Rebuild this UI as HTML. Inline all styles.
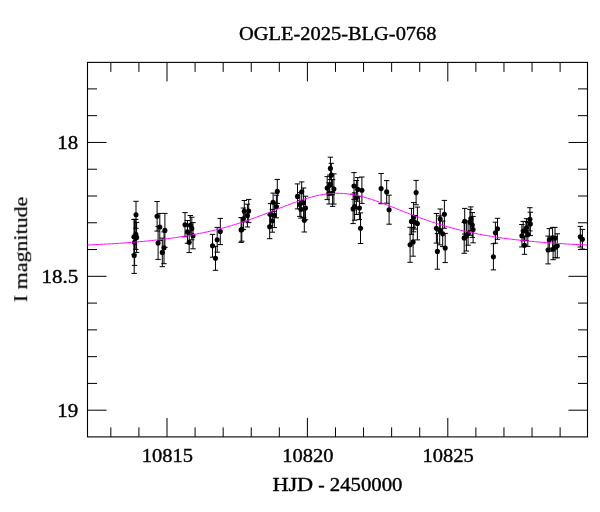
<!DOCTYPE html><html><head><meta charset="utf-8"><title>OGLE-2025-BLG-0768</title>
<style>html,body{margin:0;padding:0;background:#fff}svg{display:block}text{font-family:"Liberation Serif",serif;fill:#000;stroke:#000;stroke-width:0.4px}</style></head><body>
<svg width="600" height="512" viewBox="0 0 600 512">
<rect width="600" height="512" fill="#fff"/>
<path d="M110.84 436.9v-9.5M110.84 62.4v9.5M138.92 436.9v-9.5M138.92 62.4v9.5M167.00 436.9v-19M167.00 62.4v19M195.08 436.9v-9.5M195.08 62.4v9.5M223.16 436.9v-9.5M223.16 62.4v9.5M251.24 436.9v-9.5M251.24 62.4v9.5M279.32 436.9v-9.5M279.32 62.4v9.5M307.40 436.9v-19M307.40 62.4v19M335.48 436.9v-9.5M335.48 62.4v9.5M363.56 436.9v-9.5M363.56 62.4v9.5M391.64 436.9v-9.5M391.64 62.4v9.5M419.72 436.9v-9.5M419.72 62.4v9.5M447.80 436.9v-19M447.80 62.4v19M475.88 436.9v-9.5M475.88 62.4v9.5M503.96 436.9v-9.5M503.96 62.4v9.5M532.04 436.9v-9.5M532.04 62.4v9.5M560.12 436.9v-9.5M560.12 62.4v9.5M87.5 88.90h9.5M587.5 88.90h-9.5M87.5 115.67h9.5M587.5 115.67h-9.5M87.5 142.45h19M587.5 142.45h-19M87.5 169.23h9.5M587.5 169.23h-9.5M87.5 196.00h9.5M587.5 196.00h-9.5M87.5 222.78h9.5M587.5 222.78h-9.5M87.5 249.55h9.5M587.5 249.55h-9.5M87.5 276.32h19M587.5 276.32h-19M87.5 303.10h9.5M587.5 303.10h-9.5M87.5 329.87h9.5M587.5 329.87h-9.5M87.5 356.65h9.5M587.5 356.65h-9.5M87.5 383.42h9.5M587.5 383.42h-9.5M87.5 410.20h19M587.5 410.20h-19" stroke="#000" stroke-width="1" fill="none"/>
<rect x="87.5" y="62.4" width="500.0" height="374.5" fill="none" stroke="#000" stroke-width="1.1"/>
<path d="M136.0 201.3V228.3M133.3 201.3h5.4M133.3 228.3h5.4M135.8 219.4V249.4M133.1 219.4h5.4M133.1 249.4h5.4M134.0 219.4V254.2M131.3 219.4h5.4M131.3 254.2h5.4M136.6 222.4V252.4M133.9 222.4h5.4M133.9 252.4h5.4M134.6 219.4V265.4M131.9 219.4h5.4M131.9 265.4h5.4M134.2 237.6V273.4M131.5 237.6h5.4M131.5 273.4h5.4M157.1 201.5V231.1M154.4 201.5h5.4M154.4 231.1h5.4M159.8 213.4V240.6M157.1 213.4h5.4M157.1 240.6h5.4M164.9 213.4V247.4M162.2 213.4h5.4M162.2 247.4h5.4M158.1 226.6V259.4M155.4 226.6h5.4M155.4 259.4h5.4M164.0 231.9V263.7M161.3 231.9h5.4M161.3 263.7h5.4M162.3 238.1V266.7M159.6 238.1h5.4M159.6 266.7h5.4M185.0 212.6V236.8M182.3 212.6h5.4M182.3 236.8h5.4M190.3 215.5V234.9M187.6 215.5h5.4M187.6 234.9h5.4M191.8 217.2V239.8M189.1 217.2h5.4M189.1 239.8h5.4M187.5 220.5V243.3M184.8 220.5h5.4M184.8 243.3h5.4M193.0 222.6V248.8M190.3 222.6h5.4M190.3 248.8h5.4M189.2 232.0V252.6M186.5 232.0h5.4M186.5 252.6h5.4M220.3 218.4V244.6M217.6 218.4h5.4M217.6 244.6h5.4M217.2 227.4V252.2M214.5 227.4h5.4M214.5 252.2h5.4M212.5 234.4V257.2M209.8 234.4h5.4M209.8 257.2h5.4M215.5 246.3V270.3M212.8 246.3h5.4M212.8 270.3h5.4M248.7 199.4V222.6M246.0 199.4h5.4M246.0 222.6h5.4M244.3 200.5V221.9M241.6 200.5h5.4M241.6 221.9h5.4M247.4 204.2V227.0M244.7 204.2h5.4M244.7 227.0h5.4M243.4 208.0V229.6M240.7 208.0h5.4M240.7 229.6h5.4M241.1 217.6V242.4M238.4 217.6h5.4M238.4 242.4h5.4M241.8 217.6V241.2M239.1 217.6h5.4M239.1 241.2h5.4M277.3 179.4V203.4M274.6 179.4h5.4M274.6 203.4h5.4M273.1 193.1V211.5M270.4 193.1h5.4M270.4 211.5h5.4M276.4 195.2V217.8M273.7 195.2h5.4M273.7 217.8h5.4M270.5 203.6V225.4M267.8 203.6h5.4M267.8 225.4h5.4M274.3 203.0V227.6M271.6 203.0h5.4M271.6 227.6h5.4M272.3 209.4V232.2M269.6 209.4h5.4M269.6 232.2h5.4M269.7 214.9V238.7M267.0 214.9h5.4M267.0 238.7h5.4M301.7 181.9V201.5M299.0 181.9h5.4M299.0 201.5h5.4M297.5 183.9V208.9M294.8 183.9h5.4M294.8 208.9h5.4M303.6 188.0V217.6M300.9 188.0h5.4M300.9 217.6h5.4M299.8 192.6V216.4M297.1 192.6h5.4M297.1 216.4h5.4M300.9 200.5V218.1M298.2 200.5h5.4M298.2 218.1h5.4M305.5 196.2V219.8M302.8 196.2h5.4M302.8 219.8h5.4M304.3 208.4V232.0M301.6 208.4h5.4M301.6 232.0h5.4M330.4 157.2V179.6M327.7 157.2h5.4M327.7 179.6h5.4M331.4 163.3V186.9M328.7 163.3h5.4M328.7 186.9h5.4M329.7 175.1V195.1M327.0 175.1h5.4M327.0 195.1h5.4M327.2 176.6V199.6M324.5 176.6h5.4M324.5 199.6h5.4M333.9 173.9V204.1M331.2 173.9h5.4M331.2 204.1h5.4M329.0 182.8V204.0M326.3 182.8h5.4M326.3 204.0h5.4M332.6 179.6V206.4M329.9 179.6h5.4M329.9 206.4h5.4M354.0 172.6V199.4M351.3 172.6h5.4M351.3 199.4h5.4M357.7 177.6V201.2M355.0 177.6h5.4M355.0 201.2h5.4M361.9 177.0V203.4M359.2 177.0h5.4M359.2 203.4h5.4M356.4 180.5V214.5M353.7 180.5h5.4M353.7 214.5h5.4M354.6 192.8V220.2M351.9 192.8h5.4M351.9 220.2h5.4M353.1 194.2V223.6M350.4 194.2h5.4M350.4 223.6h5.4M359.4 196.4V219.6M356.7 196.4h5.4M356.7 219.6h5.4M360.5 212.9V243.5M357.8 212.9h5.4M357.8 243.5h5.4M381.1 173.5V203.7M378.4 173.5h5.4M378.4 203.7h5.4M386.7 180.6V203.2M384.0 180.6h5.4M384.0 203.2h5.4M389.1 195.2V224.2M386.4 195.2h5.4M386.4 224.2h5.4M416.1 180.4V204.8M413.4 180.4h5.4M413.4 204.8h5.4M413.6 202.6V231.8M410.9 202.6h5.4M410.9 231.8h5.4M411.5 208.4V234.4M408.8 208.4h5.4M408.8 234.4h5.4M414.8 215.5V229.1M412.1 215.5h5.4M412.1 229.1h5.4M417.4 207.1V239.9M414.7 207.1h5.4M414.7 239.9h5.4M413.1 227.6V256.2M410.4 227.6h5.4M410.4 256.2h5.4M410.1 227.3V262.3M407.4 227.3h5.4M407.4 262.3h5.4M444.4 200.4V228.2M441.7 200.4h5.4M441.7 228.2h5.4M440.2 209.0V229.2M437.5 209.0h5.4M437.5 229.2h5.4M436.4 213.5V243.1M433.7 213.5h5.4M433.7 243.1h5.4M439.7 215.9V244.9M437.0 215.9h5.4M437.0 244.9h5.4M442.7 221.0V246.6M440.0 221.0h5.4M440.0 246.6h5.4M445.2 233.4V262.6M442.5 233.4h5.4M442.5 262.6h5.4M437.4 233.6V269.2M434.7 233.6h5.4M434.7 269.2h5.4M464.7 208.4V234.0M462.0 208.4h5.4M462.0 234.0h5.4M470.8 206.9V230.7M468.1 206.9h5.4M468.1 230.7h5.4M470.0 209.4V235.2M467.3 209.4h5.4M467.3 235.2h5.4M472.3 212.6V237.4M469.6 212.6h5.4M469.6 237.4h5.4M473.1 216.4V242.8M470.4 216.4h5.4M470.4 242.8h5.4M468.1 221.6V245.2M465.4 221.6h5.4M465.4 245.2h5.4M466.4 221.0V251.0M463.7 221.0h5.4M463.7 251.0h5.4M464.2 222.5V253.3M461.5 222.5h5.4M461.5 253.3h5.4M497.5 218.3V239.3M494.8 218.3h5.4M494.8 239.3h5.4M495.4 222.2V243.2M492.7 222.2h5.4M492.7 243.2h5.4M493.4 243.7V269.9M490.7 243.7h5.4M490.7 269.9h5.4M529.9 207.7V230.9M527.2 207.7h5.4M527.2 230.9h5.4M530.3 212.2V235.6M527.6 212.2h5.4M527.6 235.6h5.4M526.5 218.7V236.7M523.8 218.7h5.4M523.8 236.7h5.4M523.2 221.4V240.8M520.5 221.4h5.4M520.5 240.8h5.4M527.8 222.4V246.4M525.1 222.4h5.4M525.1 246.4h5.4M526.0 221.5V240.5M523.3 221.5h5.4M523.3 240.5h5.4M521.9 224.5V246.9M519.2 224.5h5.4M519.2 246.9h5.4M524.5 236.1V254.3M521.8 236.1h5.4M521.8 254.3h5.4M552.6 227.4V248.2M549.9 227.4h5.4M549.9 248.2h5.4M555.0 227.4V248.6M552.3 227.4h5.4M552.3 248.6h5.4M549.3 228.6V251.2M546.6 228.6h5.4M546.6 251.2h5.4M557.3 233.8V257.8M554.6 233.8h5.4M554.6 257.8h5.4M555.2 236.8V257.8M552.5 236.8h5.4M552.5 257.8h5.4M553.1 238.9V259.7M550.4 238.9h5.4M550.4 259.7h5.4M548.1 236.1V263.9M545.4 236.1h5.4M545.4 263.9h5.4M580.3 226.4V247.0M577.6 226.4h5.4M577.6 247.0h5.4M582.4 229.4V249.0M579.7 229.4h5.4M579.7 249.0h5.4" stroke="#000" stroke-width="1" fill="none"/>
<g fill="#000"><circle cx="136.0" cy="214.8" r="2.55"/><circle cx="135.8" cy="234.4" r="2.55"/><circle cx="134.0" cy="236.8" r="2.55"/><circle cx="136.6" cy="237.4" r="2.55"/><circle cx="134.6" cy="242.4" r="2.55"/><circle cx="134.2" cy="255.5" r="2.55"/><circle cx="157.1" cy="216.3" r="2.55"/><circle cx="159.8" cy="227.0" r="2.55"/><circle cx="164.9" cy="230.4" r="2.55"/><circle cx="158.1" cy="243.0" r="2.55"/><circle cx="164.0" cy="247.8" r="2.55"/><circle cx="162.3" cy="252.4" r="2.55"/><circle cx="185.0" cy="224.7" r="2.55"/><circle cx="190.3" cy="225.2" r="2.55"/><circle cx="191.8" cy="228.5" r="2.55"/><circle cx="187.5" cy="231.9" r="2.55"/><circle cx="193.0" cy="235.7" r="2.55"/><circle cx="189.2" cy="242.3" r="2.55"/><circle cx="220.3" cy="231.5" r="2.55"/><circle cx="217.2" cy="239.8" r="2.55"/><circle cx="212.5" cy="245.8" r="2.55"/><circle cx="215.5" cy="258.3" r="2.55"/><circle cx="248.7" cy="211.0" r="2.55"/><circle cx="244.3" cy="211.2" r="2.55"/><circle cx="247.4" cy="215.6" r="2.55"/><circle cx="243.4" cy="218.8" r="2.55"/><circle cx="241.1" cy="230.0" r="2.55"/><circle cx="241.8" cy="229.4" r="2.55"/><circle cx="277.3" cy="191.4" r="2.55"/><circle cx="273.1" cy="202.3" r="2.55"/><circle cx="276.4" cy="206.5" r="2.55"/><circle cx="270.5" cy="214.5" r="2.55"/><circle cx="274.3" cy="215.3" r="2.55"/><circle cx="272.3" cy="220.8" r="2.55"/><circle cx="269.7" cy="226.8" r="2.55"/><circle cx="301.7" cy="191.7" r="2.55"/><circle cx="297.5" cy="196.4" r="2.55"/><circle cx="303.6" cy="202.8" r="2.55"/><circle cx="299.8" cy="204.5" r="2.55"/><circle cx="300.9" cy="209.3" r="2.55"/><circle cx="305.5" cy="208.0" r="2.55"/><circle cx="304.3" cy="220.2" r="2.55"/><circle cx="330.4" cy="168.4" r="2.55"/><circle cx="331.4" cy="175.1" r="2.55"/><circle cx="329.7" cy="185.1" r="2.55"/><circle cx="327.2" cy="188.1" r="2.55"/><circle cx="333.9" cy="189.0" r="2.55"/><circle cx="329.0" cy="193.4" r="2.55"/><circle cx="332.6" cy="193.0" r="2.55"/><circle cx="354.0" cy="186.0" r="2.55"/><circle cx="357.7" cy="189.4" r="2.55"/><circle cx="361.9" cy="190.2" r="2.55"/><circle cx="356.4" cy="197.5" r="2.55"/><circle cx="354.6" cy="206.5" r="2.55"/><circle cx="353.1" cy="208.9" r="2.55"/><circle cx="359.4" cy="208.0" r="2.55"/><circle cx="360.5" cy="228.2" r="2.55"/><circle cx="381.1" cy="188.6" r="2.55"/><circle cx="386.7" cy="191.9" r="2.55"/><circle cx="389.1" cy="209.7" r="2.55"/><circle cx="416.1" cy="192.6" r="2.55"/><circle cx="413.6" cy="217.2" r="2.55"/><circle cx="411.5" cy="221.4" r="2.55"/><circle cx="414.8" cy="222.3" r="2.55"/><circle cx="417.4" cy="223.5" r="2.55"/><circle cx="413.1" cy="241.9" r="2.55"/><circle cx="410.1" cy="244.8" r="2.55"/><circle cx="444.4" cy="214.3" r="2.55"/><circle cx="440.2" cy="219.1" r="2.55"/><circle cx="436.4" cy="228.3" r="2.55"/><circle cx="439.7" cy="230.4" r="2.55"/><circle cx="442.7" cy="233.8" r="2.55"/><circle cx="445.2" cy="248.0" r="2.55"/><circle cx="437.4" cy="251.4" r="2.55"/><circle cx="464.7" cy="221.2" r="2.55"/><circle cx="470.8" cy="218.8" r="2.55"/><circle cx="470.0" cy="222.3" r="2.55"/><circle cx="472.3" cy="225.0" r="2.55"/><circle cx="473.1" cy="229.6" r="2.55"/><circle cx="468.1" cy="233.4" r="2.55"/><circle cx="466.4" cy="236.0" r="2.55"/><circle cx="464.2" cy="237.9" r="2.55"/><circle cx="497.5" cy="228.8" r="2.55"/><circle cx="495.4" cy="232.7" r="2.55"/><circle cx="493.4" cy="256.8" r="2.55"/><circle cx="529.9" cy="219.3" r="2.55"/><circle cx="530.3" cy="223.9" r="2.55"/><circle cx="526.5" cy="227.7" r="2.55"/><circle cx="523.2" cy="231.1" r="2.55"/><circle cx="527.8" cy="234.4" r="2.55"/><circle cx="526.0" cy="231.0" r="2.55"/><circle cx="521.9" cy="235.7" r="2.55"/><circle cx="524.5" cy="245.2" r="2.55"/><circle cx="552.6" cy="237.8" r="2.55"/><circle cx="555.0" cy="238.0" r="2.55"/><circle cx="549.3" cy="239.9" r="2.55"/><circle cx="557.3" cy="245.8" r="2.55"/><circle cx="555.2" cy="247.3" r="2.55"/><circle cx="553.1" cy="249.3" r="2.55"/><circle cx="548.1" cy="250.0" r="2.55"/><circle cx="580.3" cy="236.7" r="2.55"/><circle cx="582.4" cy="239.2" r="2.55"/></g>
<path d="M87.5 245.01 L91.5 244.83 L95.5 244.64 L99.5 244.44 L103.5 244.23 L107.5 244.01 L111.5 243.78 L115.5 243.53 L119.5 243.27 L123.5 242.99 L127.5 242.70 L131.5 242.39 L135.5 242.07 L139.5 241.72 L143.5 241.36 L147.5 240.97 L151.5 240.57 L155.5 240.14 L159.5 239.68 L163.5 239.20 L167.5 238.70 L171.5 238.16 L175.5 237.59 L179.5 236.99 L183.5 236.36 L187.5 235.69 L191.5 234.99 L195.5 234.25 L199.5 233.46 L203.5 232.64 L207.5 231.77 L211.5 230.85 L215.5 229.89 L219.5 228.89 L223.5 227.83 L227.5 226.72 L231.5 225.56 L235.5 224.35 L239.5 223.09 L243.5 221.78 L247.5 220.43 L251.5 219.02 L255.5 217.58 L259.5 216.09 L263.5 214.57 L267.5 213.02 L271.5 211.45 L275.5 209.86 L279.5 208.27 L283.5 206.69 L287.5 205.13 L291.5 203.60 L295.5 202.11 L299.5 200.69 L303.5 199.35 L307.5 198.11 L311.5 196.97 L315.5 195.97 L319.5 195.10 L323.5 194.39 L327.5 193.85 L331.5 193.49 L335.5 193.31 L339.5 193.31 L343.5 193.50 L347.5 193.87 L351.5 194.41 L355.5 195.13 L359.5 196.00 L363.5 197.01 L367.5 198.15 L371.5 199.39 L375.5 200.74 L379.5 202.16 L383.5 203.65 L387.5 205.18 L391.5 206.74 L395.5 208.32 L399.5 209.91 L403.5 211.50 L407.5 213.07 L411.5 214.62 L415.5 216.14 L419.5 217.63 L423.5 219.07 L427.5 220.47 L431.5 221.83 L435.5 223.14 L439.5 224.39 L443.5 225.60 L447.5 226.76 L451.5 227.86 L455.5 228.92 L459.5 229.93 L463.5 230.89 L467.5 231.80 L471.5 232.67 L475.5 233.49 L479.5 234.27 L483.5 235.01 L487.5 235.72 L491.5 236.38 L495.5 237.01 L499.5 237.61 L503.5 238.18 L507.5 238.71 L511.5 239.22 L515.5 239.70 L519.5 240.15 L523.5 240.58 L527.5 240.99 L531.5 241.37 L535.5 241.73 L539.5 242.08 L543.5 242.40 L547.5 242.71 L551.5 243.00 L555.5 243.28 L559.5 243.54 L563.5 243.78 L567.5 244.02 L571.5 244.24 L575.5 244.45 L579.5 244.65 L583.5 244.84 L587.5 245.02" stroke="#ff00ff" stroke-width="0.95" fill="none"/>
<g opacity="0.999">
<text x="239" y="40" font-size="19.5" textLength="197.5" lengthAdjust="spacingAndGlyphs">OGLE-2025-BLG-0768</text>
<text x="141.8" y="462.4" font-size="19.5" textLength="51.2" lengthAdjust="spacingAndGlyphs">10815</text>
<text x="282.2" y="462.4" font-size="19.5" textLength="51.2" lengthAdjust="spacingAndGlyphs">10820</text>
<text x="422.6" y="462.4" font-size="19.5" textLength="51.2" lengthAdjust="spacingAndGlyphs">10825</text>
<text x="57.3" y="149.4" font-size="19.5" textLength="20.9" lengthAdjust="spacingAndGlyphs">18</text>
<text x="41.5" y="283.3" font-size="19.5" textLength="36.7" lengthAdjust="spacingAndGlyphs">18.5</text>
<text x="57.3" y="417.2" font-size="19.5" textLength="20.9" lengthAdjust="spacingAndGlyphs">19</text>
<text x="272.4" y="491" font-size="19.5" textLength="40.8" lengthAdjust="spacingAndGlyphs">HJD</text>
<text x="318.3" y="491" font-size="19.5" textLength="6.4" lengthAdjust="spacingAndGlyphs">-</text>
<text x="329.8" y="491" font-size="19.5" textLength="72.6" lengthAdjust="spacingAndGlyphs">2450000</text>
<text style="stroke-width:0.22px" transform="translate(27.2,302.2) rotate(-90)" font-size="19.5" textLength="105.5" lengthAdjust="spacingAndGlyphs">I magnitude</text>
</g>
</svg></body></html>
